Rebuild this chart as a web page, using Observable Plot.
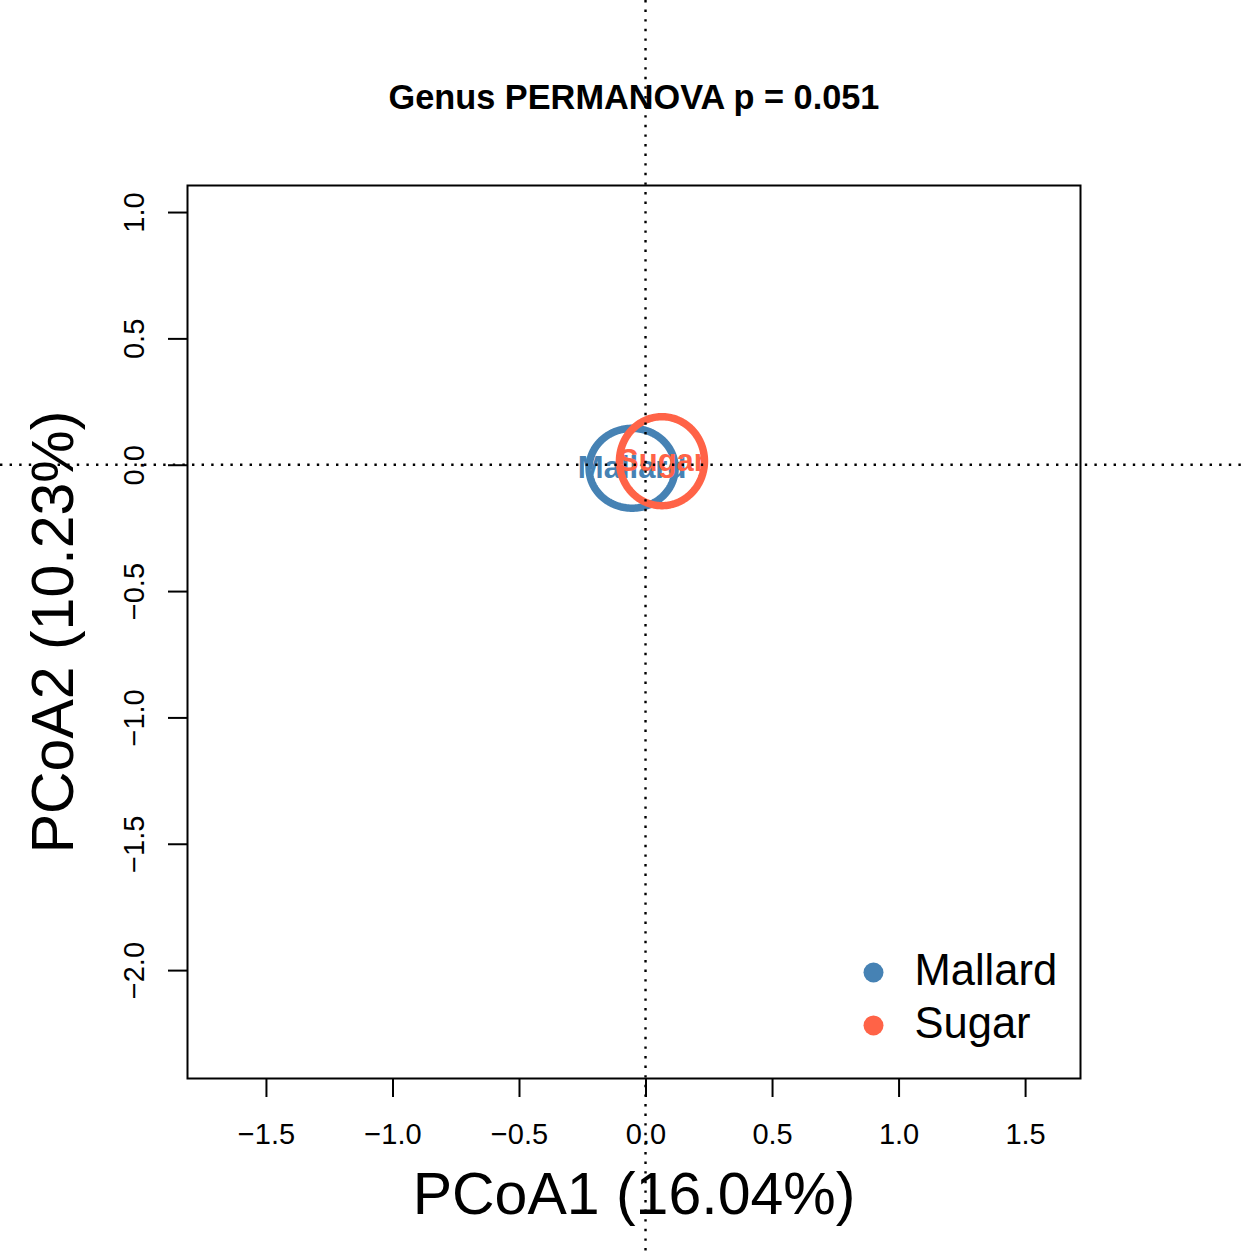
<!DOCTYPE html>
<html>
<head>
<meta charset="utf-8">
<script src="https://cdn.jsdelivr.net/npm/d3@7"></script>
<script src="https://cdn.jsdelivr.net/npm/@observablehq/plot@0.6"></script>
<style>
  html, body { margin: 0; padding: 0; background: #ffffff; }
  #chart { width: 1244px; height: 1252px; }
</style>
</head>
<body>
<div id="chart"></div>
<script>
// ---- data ----
const groups = ["Mallard", "Sugar"];
const groupColors = ["#4682B4", "#FF6347"];
const centerX = [-0.055, 0.063];
const centerY = [-0.012, 0.016];
const radiusX = [0.170, 0.168];
const radiusY = [0.158, 0.176];
const xTicks = [-1.5, -1.0, -0.5, 0.0, 0.5, 1.0, 1.5];
const yTicks = [-2.0, -1.5, -1.0, -0.5, 0.0, 0.5, 1.0];
const xDomain = [-1.812, 1.717];
const yDomain = [-2.427, 1.107];
const titleText = "Genus PERMANOVA p = 0.051";
const xLabel = "PCoA1 (16.04%)";
const yLabel = "PCoA2 (10.23%)";

const FONT = "'Liberation Sans', Arial, Helvetica, sans-serif";
const fmt = d => (d < 0 ? "\u2212" : "") + Math.abs(d).toFixed(1);

// ellipse outlines built from center and radii
function ellipsePoints(i) {
  const pts = [];
  const n = 180;
  for (let k = 0; k < n; k++) {
    const t = (2 * Math.PI * k) / n;
    pts.push({group: groups[i], x: centerX[i] + radiusX[i] * Math.cos(t), y: centerY[i] + radiusY[i] * Math.sin(t)});
  }
  return pts;
}

const groupMarks = [];
groups.forEach((g, i) => {
  groupMarks.push(Plot.line(ellipsePoints(i), {
    x: "x", y: "y", curve: "linear-closed", stroke: groupColors[i], strokeWidth: 7.5
  }));
  groupMarks.push(Plot.text([{x: centerX[i], y: centerY[i], label: g}], {
    x: "x", y: "y", text: "label", fill: groupColors[i], fontWeight: "bold", fontSize: 31, lineAnchor: "middle"
  }));
});

const legendMarks = [];
groups.forEach((g, i) => {
  legendMarks.push(Plot.dot([g], {frameAnchor: "bottom-right", dx: -207, dy: -106 + i * 53, r: 10, fill: groupColors[i], stroke: "none"}));
  legendMarks.push(Plot.text([g], {frameAnchor: "bottom-right", text: d => d, dx: -166, dy: -107 + i * 53, textAnchor: "start", lineAnchor: "middle", fontSize: 43.5, fill: "black"}));
});

const dottedLines = Plot.ruleX([0], {
  render: (index, scales, values, dimensions) => {
    const g = d3.create("svg:g");
    const x0 = scales.x(0), y0 = scales.y(0);
    g.append("line").attr("x1", x0).attr("x2", x0).attr("y1", 0).attr("y2", dimensions.height)
      .attr("stroke", "black").attr("stroke-width", 2.4).attr("stroke-dasharray", "2.4,7.2");
    g.append("line").attr("x1", 0).attr("x2", dimensions.width).attr("y1", y0).attr("y2", y0)
      .attr("stroke", "black").attr("stroke-width", 2.4).attr("stroke-dasharray", "2.4,7.2");
    return g.node();
  }
});

const chart = Plot.plot({
  width: 1244,
  height: 1252,
  marginLeft: 187,
  marginRight: 164,
  marginTop: 185,
  marginBottom: 174,
  style: {fontFamily: FONT, background: "#ffffff", color: "black"},
  x: {domain: xDomain, axis: null},
  y: {domain: yDomain, axis: null},
  marks: [
    Plot.frame({stroke: "black", strokeWidth: 2}),
    // x axis ticks and labels
    Plot.axisX(xTicks, {anchor: "bottom", tickSize: 19, tickFormat: () => "", label: null, strokeWidth: 2}),
    Plot.text(xTicks, {x: d => d, frameAnchor: "bottom", text: fmt, dy: 56, fontSize: 29, lineAnchor: "middle", textAnchor: "middle"}),
    // y axis ticks and labels
    Plot.axisY(yTicks, {anchor: "left", tickSize: 19, tickFormat: () => "", label: null, strokeWidth: 2}),
    Plot.text(yTicks, {y: d => d, frameAnchor: "left", text: fmt, dx: -53, rotate: -90, fontSize: 29, lineAnchor: "middle", textAnchor: "middle"}),
    // axis titles
    Plot.text([xLabel], {frameAnchor: "bottom", text: d => d, dy: 117, fontSize: 59, lineAnchor: "middle", textAnchor: "middle"}),
    Plot.text([yLabel], {frameAnchor: "left", text: d => d, dx: -133, rotate: -90, fontSize: 59, lineAnchor: "middle", textAnchor: "middle"}),
    // title
    Plot.text([titleText], {frameAnchor: "top", text: d => d, dy: -87, fontSize: 34.3, fontWeight: "bold", lineAnchor: "middle", textAnchor: "middle"}),
    ...groupMarks,
    ...legendMarks,
    dottedLines
  ]
});

document.getElementById("chart").appendChild(chart);
</script>
</body>
</html>
